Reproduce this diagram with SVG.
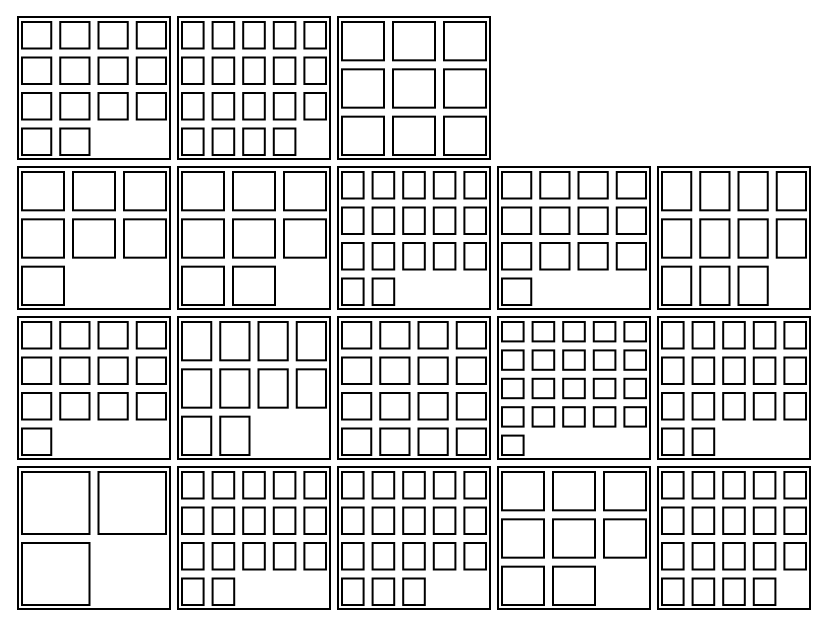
<svg xmlns="http://www.w3.org/2000/svg" width="832" height="634" viewBox="0 0 832 634">
<style>
.o{fill:none;stroke:#000;stroke-width:2}
.b{fill:#fff;stroke:#000;stroke-width:2}
</style>
<defs>
<rect id="b44" class="b" width="29.25" height="26.5"/>
<rect id="b54" class="b" width="21.6" height="26.5"/>
<rect id="b33" class="b" width="42" height="38.333"/>
<rect id="b43" class="b" width="29.25" height="38.333"/>
<rect id="b55" class="b" width="21.6" height="19.4"/>
<rect id="b22" class="b" width="67.5" height="62"/>
<rect id="frame" class="o" x="2" y="1" width="152" height="142"/>
<g id="r44"><use href="#b44" x="6"/><use href="#b44" x="44.25"/><use href="#b44" x="82.5"/><use href="#b44" x="120.75"/></g>
<g id="r54"><use href="#b54" x="6"/><use href="#b54" x="36.6"/><use href="#b54" x="67.2"/><use href="#b54" x="97.8"/><use href="#b54" x="128.4"/></g>
<g id="r33"><use href="#b33" x="6"/><use href="#b33" x="57"/><use href="#b33" x="108"/></g>
<g id="r43"><use href="#b43" x="6"/><use href="#b43" x="44.25"/><use href="#b43" x="82.5"/><use href="#b43" x="120.75"/></g>
<g id="r55"><use href="#b55" x="6"/><use href="#b55" x="36.6"/><use href="#b55" x="67.2"/><use href="#b55" x="97.8"/><use href="#b55" x="128.4"/></g>
</defs>
<rect width="832" height="634" fill="#fff"/>

<g id="panel-0-0" transform="translate(16,16)">
<use href="#frame"/>
<use href="#r44" y="6"/><use href="#r44" y="41.5"/><use href="#r44" y="77"/>
<use href="#b44" x="6" y="112.5"/><use href="#b44" x="44.25" y="112.5"/>
</g>
<g id="panel-0-1" transform="translate(176,16)">
<use href="#frame"/>
<use href="#r54" y="6"/><use href="#r54" y="41.5"/><use href="#r54" y="77"/>
<use href="#b54" x="6" y="112.5"/><use href="#b54" x="36.6" y="112.5"/><use href="#b54" x="67.2" y="112.5"/><use href="#b54" x="97.8" y="112.5"/>
</g>
<g id="panel-0-2" transform="translate(336,16)">
<use href="#frame"/>
<use href="#r33" y="6"/><use href="#r33" y="53.333"/><use href="#r33" y="100.667"/>
</g>

<g id="panel-1-0" transform="translate(16,166)">
<use href="#frame"/>
<use href="#r33" y="6"/><use href="#r33" y="53.333"/>
<use href="#b33" x="6" y="100.667"/>
</g>
<g id="panel-1-1" transform="translate(176,166)">
<use href="#frame"/>
<use href="#r33" y="6"/><use href="#r33" y="53.333"/>
<use href="#b33" x="6" y="100.667"/><use href="#b33" x="57" y="100.667"/>
</g>
<g id="panel-1-2" transform="translate(336,166)">
<use href="#frame"/>
<use href="#r54" y="6"/><use href="#r54" y="41.5"/><use href="#r54" y="77"/>
<use href="#b54" x="6" y="112.5"/><use href="#b54" x="36.6" y="112.5"/>
</g>
<g id="panel-1-3" transform="translate(496,166)">
<use href="#frame"/>
<use href="#r44" y="6"/><use href="#r44" y="41.5"/><use href="#r44" y="77"/>
<use href="#b44" x="6" y="112.5"/>
</g>
<g id="panel-1-4" transform="translate(656,166)">
<use href="#frame"/>
<use href="#r43" y="6"/><use href="#r43" y="53.333"/>
<use href="#b43" x="6" y="100.667"/><use href="#b43" x="44.25" y="100.667"/><use href="#b43" x="82.5" y="100.667"/>
</g>

<g id="panel-2-0" transform="translate(16,316)">
<use href="#frame"/>
<use href="#r44" y="6"/><use href="#r44" y="41.5"/><use href="#r44" y="77"/>
<use href="#b44" x="6" y="112.5"/>
</g>
<g id="panel-2-1" transform="translate(176,316)">
<use href="#frame"/>
<use href="#r43" y="6"/><use href="#r43" y="53.333"/>
<use href="#b43" x="6" y="100.667"/><use href="#b43" x="44.25" y="100.667"/>
</g>
<g id="panel-2-2" transform="translate(336,316)">
<use href="#frame"/>
<use href="#r44" y="6"/><use href="#r44" y="41.5"/><use href="#r44" y="77"/><use href="#r44" y="112.5"/>
</g>
<g id="panel-2-3" transform="translate(496,316)">
<use href="#frame"/>
<use href="#r55" y="6"/><use href="#r55" y="34.4"/><use href="#r55" y="62.8"/><use href="#r55" y="91.2"/>
<use href="#b55" x="6" y="119.6"/>
</g>
<g id="panel-2-4" transform="translate(656,316)">
<use href="#frame"/>
<use href="#r54" y="6"/><use href="#r54" y="41.5"/><use href="#r54" y="77"/>
<use href="#b54" x="6" y="112.5"/><use href="#b54" x="36.6" y="112.5"/>
</g>

<g id="panel-3-0" transform="translate(16,466)">
<use href="#frame"/>
<use href="#b22" x="6" y="6"/><use href="#b22" x="82.5" y="6"/>
<use href="#b22" x="6" y="77"/>
</g>
<g id="panel-3-1" transform="translate(176,466)">
<use href="#frame"/>
<use href="#r54" y="6"/><use href="#r54" y="41.5"/><use href="#r54" y="77"/>
<use href="#b54" x="6" y="112.5"/><use href="#b54" x="36.6" y="112.5"/>
</g>
<g id="panel-3-2" transform="translate(336,466)">
<use href="#frame"/>
<use href="#r54" y="6"/><use href="#r54" y="41.5"/><use href="#r54" y="77"/>
<use href="#b54" x="6" y="112.5"/><use href="#b54" x="36.6" y="112.5"/><use href="#b54" x="67.2" y="112.5"/>
</g>
<g id="panel-3-3" transform="translate(496,466)">
<use href="#frame"/>
<use href="#r33" y="6"/><use href="#r33" y="53.333"/>
<use href="#b33" x="6" y="100.667"/><use href="#b33" x="57" y="100.667"/>
</g>
<g id="panel-3-4" transform="translate(656,466)">
<use href="#frame"/>
<use href="#r54" y="6"/><use href="#r54" y="41.5"/><use href="#r54" y="77"/>
<use href="#b54" x="6" y="112.5"/><use href="#b54" x="36.6" y="112.5"/><use href="#b54" x="67.2" y="112.5"/><use href="#b54" x="97.8" y="112.5"/>
</g>
</svg>
